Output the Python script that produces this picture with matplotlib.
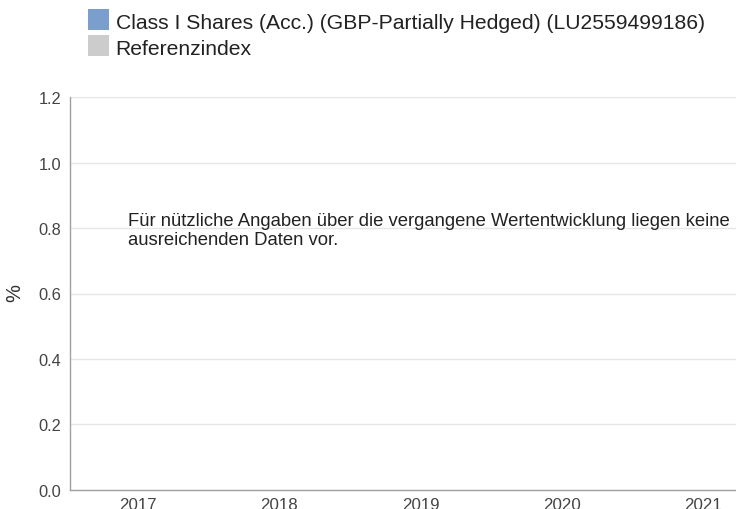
import numpy as np
import matplotlib
matplotlib.use("Agg")
import matplotlib.pyplot as plt
from matplotlib.patches import Rectangle

plt.rcParams['font.family'] = ['Liberation Sans', 'DejaVu Sans']

years = ["2017", "2018", "2019", "2020", "2021"]
fund_values = [np.nan, np.nan, np.nan, np.nan, np.nan]
index_values = [np.nan, np.nan, np.nan, np.nan, np.nan]
series_labels = ["Class I Shares (Acc.) (GBP-Partially Hedged) (LU2559499186)", "Referenzindex"]
series_colors = ["#7b9fcc", "#cccccc"]
y_ticks = [0.0, 0.2, 0.4, 0.6, 0.8, 1.0, 1.2]
y_label = "%"
note = "Für nützliche Angaben über die vergangene Wertentwicklung liegen keine\nausreichenden Daten vor."

W, H = 736, 510
fig = plt.figure(figsize=(W / 100, H / 100), dpi=100)

ax_left, ax_right, ax_top, ax_bottom = 69.5, 736, 98.3, 490.7
ax = fig.add_axes([ax_left / W, (H - ax_bottom) / H, (ax_right - ax_left) / W, (ax_bottom - ax_top) / H])

x = np.arange(len(years))
w = 0.35
ax.bar(x - w / 2, fund_values, w, color=series_colors[0])
ax.bar(x + w / 2, index_values, w, color=series_colors[1])

ax.set_ylim(0, 1.2)
ax.set_xlim(-0.485, 4.234)
ax.set_yticks(y_ticks)
ax.set_yticklabels([f"{v:.1f}" for v in y_ticks])
ax.set_xticks(x)
ax.set_xticklabels(years)
ax.grid(axis='y', color='#e6e6e6', linewidth=1)
ax.set_axisbelow(True)
for s in ['top', 'right']:
    ax.spines[s].set_visible(False)
for s in ['left', 'bottom']:
    ax.spines[s].set_color('#a0a0a0')
    ax.spines[s].set_linewidth(1)
ax.tick_params(axis='both', length=0, labelcolor='#444444')
ax.tick_params(axis='y', pad=6, labelsize=11.8)
ax.tick_params(axis='x', pad=5, labelsize=12.2)

fig.text(15 / W, 1 - 293.5 / H, y_label, rotation=90, ha='center', va='center', fontsize=14.5, color='#333333')

# legend
sq = 20.5
rows_y = [10, 36.2]
for i, (lab, col) in enumerate(zip(series_labels, series_colors)):
    y0 = rows_y[i]
    fig.patches.append(Rectangle((88.3 / W, 1 - (y0 + sq) / H), sq / W, sq / H,
                                 transform=fig.transFigure, facecolor=col, edgecolor='none'))
    fig.text(115.7 / W, 1 - (y0 + sq / 2 + 1.0) / H, lab, ha='left', va='center_baseline',
             fontsize=15.2, color='#222222')

fig.text(128.3 / W, 1 - 245 / H, note, ha='left', va='baseline', fontsize=13.3,
         color='#222222', linespacing=1.12, multialignment='left')

fig.savefig("out.png", dpi=100)
